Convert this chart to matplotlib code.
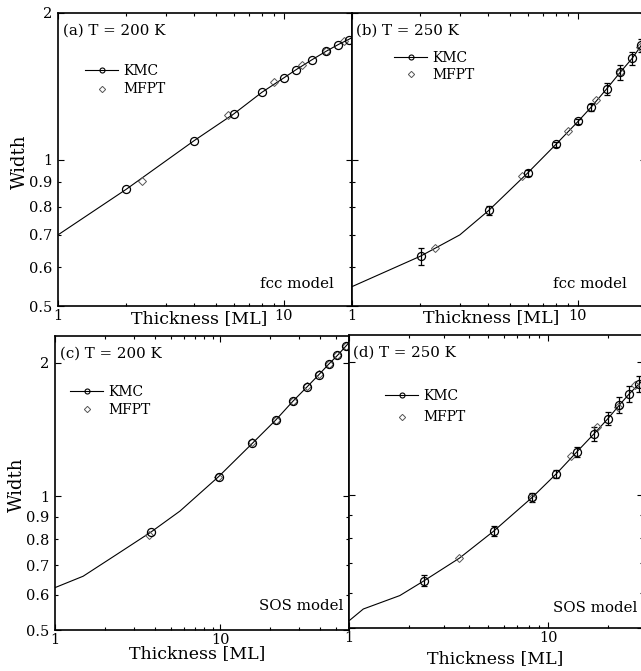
import matplotlib
matplotlib.use("Agg")
import matplotlib.pyplot as plt
from matplotlib.lines import Line2D
from matplotlib.ticker import FixedLocator, FixedFormatter, NullFormatter, LogLocator

plt.rcParams['font.family'] = ['DejaVu Serif']

# ---------------- data ----------------
# (a) fcc model, T = 200 K
a_curve_x = [1, 2, 4, 6, 8, 10, 11.3, 13.3, 15.3, 17.4, 19.3, 20]
a_curve_y = [0.70, 0.868, 1.093, 1.241, 1.375, 1.472, 1.529, 1.603, 1.667, 1.723, 1.764, 1.78]
a_kmc_x = [2, 4, 6, 8, 10, 11.3, 13.3, 15.3, 17.4, 19.3]
a_kmc_y = [0.868, 1.093, 1.241, 1.375, 1.472, 1.529, 1.603, 1.667, 1.723, 1.764]
a_mfpt_x = [2.35, 5.67, 9.0, 12.0, 15.3, 18.5]
a_mfpt_y = [0.905, 1.237, 1.444, 1.567, 1.667, 1.75]

# (b) fcc model, T = 250 K
b_curve_x = [1, 2.01, 3, 4.03, 6, 8, 10, 11.4, 13.4, 15.4, 17.4, 19.05, 20]
b_curve_y = [0.548, 0.633, 0.700, 0.786, 0.939, 1.075, 1.197, 1.279, 1.397, 1.512, 1.615, 1.715, 1.76]
b_kmc_x = [2.01, 4.03, 6, 8, 10, 11.4, 13.4, 15.4, 17.4, 19.05]
b_kmc_y = [0.633, 0.786, 0.939, 1.075, 1.197, 1.279, 1.397, 1.512, 1.615, 1.715]
b_kmc_err = [0.026, 0.017, 0.012, 0.012, 0.012, 0.02, 0.039, 0.052, 0.048, 0.05]
b_mfpt_x = [2.34, 5.64, 9.0, 12.0, 15.3, 18.9]
b_mfpt_y = [0.659, 0.926, 1.142, 1.326, 1.51, 1.70]

# (c) SOS model, T = 200 K
c_curve_x = [1, 1.48, 2.36, 3.8, 5.7, 9.75, 15.6, 21.6, 27.5, 33.5, 39.4, 45.1, 51.1, 57.3, 60]
c_curve_y = [0.623, 0.661, 0.740, 0.831, 0.927, 1.108, 1.317, 1.486, 1.640, 1.767, 1.881, 1.985, 2.08, 2.18, 2.22]
c_kmc_x = [3.8, 9.75, 15.6, 21.6, 27.5, 33.5, 39.4, 45.1, 51.1, 57.3]
c_kmc_y = [0.831, 1.108, 1.317, 1.486, 1.640, 1.767, 1.881, 1.985, 2.08, 2.18]
c_mfpt_x = [3.68, 9.7, 15.6, 21.6, 27.5, 33.5, 39.4, 45.1, 51.1, 57.3]
c_mfpt_y = [0.817, 1.105, 1.325, 1.49, 1.645, 1.77, 1.885, 1.99, 2.085, 2.185]

# (d) SOS model, T = 250 K
d_curve_x = [1, 1.18, 1.8, 2.39, 3.58, 5.33, 8.34, 11.0, 13.9, 17.0, 20.0, 22.8, 25.6, 28.7, 30]
d_curve_y = [0.519, 0.552, 0.592, 0.640, 0.719, 0.828, 0.988, 1.116, 1.249, 1.374, 1.488, 1.596, 1.693, 1.783, 1.82]
d_kmc_x = [2.39, 5.33, 8.34, 11.0, 13.9, 17.0, 20.0, 22.8, 25.6, 28.7]
d_kmc_y = [0.640, 0.828, 0.988, 1.116, 1.249, 1.374, 1.488, 1.596, 1.693, 1.783]
d_kmc_err = [0.019, 0.021, 0.024, 0.022, 0.033, 0.048, 0.049, 0.065, 0.074, 0.07]
d_mfpt_x = [3.58, 8.3, 13.0, 17.7, 22.4, 27.2]
d_mfpt_y = [0.719, 0.985, 1.227, 1.428, 1.58, 1.77]

panel_titles = ["(a) T = 200 K", "(b) T = 250 K", "(c) T = 200 K", "(d) T = 250 K"]
model_labels = ["fcc model", "fcc model", "SOS model", "SOS model"]
xlims = [(1, 20), (1, 20), (1, 60), (1, 30)]
ylims = [(0.5, 2.0), (0.5, 2.0), (0.5, 2.3), (0.5, 2.3)]
y_major = [0.5, 1, 2]
y_major_labels = ["0.5", "1", "2"]
y_minor = [0.6, 0.7, 0.8, 0.9]
y_minor_labels = ["0.6", "0.7", "0.8", "0.9"]
x_major = [1, 10]
x_major_labels = ["1", "10"]

# ---------------- layout (pixels) ----------------
W, H = 641, 671
fig = plt.figure(figsize=(W / 100, H / 100), dpi=100)

def px_axes(left, right, top, bottom):
    return fig.add_axes([left / W, (H - bottom) / H, (right - left) / W, (bottom - top) / H])

axes = [
    px_axes(58, 352, 13, 306),
    px_axes(352, 646, 13, 306),
    px_axes(55, 349, 336, 630),
    px_axes(349, 643, 335, 628),
]

data = [
    (a_curve_x, a_curve_y, a_kmc_x, a_kmc_y, None, a_mfpt_x, a_mfpt_y),
    (b_curve_x, b_curve_y, b_kmc_x, b_kmc_y, b_kmc_err, b_mfpt_x, b_mfpt_y),
    (c_curve_x, c_curve_y, c_kmc_x, c_kmc_y, None, c_mfpt_x, c_mfpt_y),
    (d_curve_x, d_curve_y, d_kmc_x, d_kmc_y, d_kmc_err, d_mfpt_x, d_mfpt_y),
]

legend_pos = [(0.092, 0.826, 0.32), (0.143, 0.870, 0.18), (0.051, 0.833, 0.25), (0.122, 0.815, 0.52)]
title_pos = [(0.017, 0.964), (0.014, 0.964), (0.017, 0.964), (0.014, 0.964)]
model_pos = [(0.939, 0.061), (0.935, 0.061), (0.98, 0.068), (0.98, 0.055)]
xlabel_pos = [(0.481, -0.015), (0.474, -0.010), (0.485, -0.052), (0.498, -0.075)]
ylabel_pos = [(-0.100, 0.493), None, (-0.100, 0.493), None]

TICK_FS = 10.5
LABEL_FS = 12.5
YLABEL_FS = 13
TEXT_FS = 10.8
LEG_FS = 10

for i, ax in enumerate(axes):
    cx, cy, kx, ky, kerr, mx, my = data[i]
    ax.set_xscale('log')
    ax.set_yscale('log')
    ax.plot(cx, cy, color='black', lw=0.8, zorder=2)
    if kerr is not None:
        ax.errorbar(kx, ky, yerr=kerr, fmt='none', ecolor='black', elinewidth=0.9,
                    capsize=2.0, capthick=0.9, zorder=3)
    ax.plot(kx, ky, linestyle='none', marker='o', ms=5.8, mfc='none', mec='black',
            mew=0.9, zorder=4)
    ax.plot(mx, my, linestyle='none', marker='D', ms=3.6, mfc='none', mec='#555555',
            mew=0.7, zorder=3)

    ax.set_xlim(*xlims[i])
    ax.set_ylim(*ylims[i])

    ax.xaxis.set_major_locator(FixedLocator(x_major))
    ax.xaxis.set_major_formatter(FixedFormatter(x_major_labels))
    ax.xaxis.set_minor_locator(LogLocator(base=10, subs=(2, 3, 4, 5, 6, 7, 8, 9)))
    ax.xaxis.set_minor_formatter(NullFormatter())

    ax.yaxis.set_major_locator(FixedLocator(y_major))
    ax.yaxis.set_minor_locator(FixedLocator(y_minor))
    if i in (0, 2):
        ax.yaxis.set_major_formatter(FixedFormatter(y_major_labels))
        ax.yaxis.set_minor_formatter(FixedFormatter(y_minor_labels))
    else:
        ax.yaxis.set_major_formatter(NullFormatter())
        ax.yaxis.set_minor_formatter(NullFormatter())

    ax.tick_params(which='both', direction='in', top=True, right=True,
                   width=0.8, labelsize=TICK_FS, colors='black')
    ax.tick_params(which='major', length=4.3)
    ax.tick_params(which='minor', length=2.5)
    ax.tick_params(axis='x', which='both', pad=2)
    ax.tick_params(axis='y', which='both', pad=4)
    for s in ax.spines.values():
        s.set_linewidth(1.2)
        s.set_color('black')

    ax.set_xlabel("Thickness [ML]", fontsize=LABEL_FS)
    ax.xaxis.set_label_coords(*xlabel_pos[i])
    if ylabel_pos[i] is not None:
        ax.set_ylabel("Width", fontsize=YLABEL_FS)
        ax.yaxis.set_label_coords(*ylabel_pos[i])

    ax.text(title_pos[i][0], title_pos[i][1], panel_titles[i], transform=ax.transAxes,
            ha='left', va='top', fontsize=TEXT_FS)
    ax.text(model_pos[i][0], model_pos[i][1], model_labels[i], transform=ax.transAxes,
            ha='right', va='baseline', fontsize=TEXT_FS)

    handles = [
        Line2D([], [], color='black', lw=0.8, marker='o', ms=3.6, mfc='none', mec='black', mew=0.8),
        Line2D([], [], color='none', lw=0, marker='D', ms=3.2, mfc='none', mec='#555555', mew=0.7),
    ]
    lx, ly, lsp = legend_pos[i]
    ax.legend(handles, ["KMC", "MFPT"], loc='upper left', bbox_to_anchor=(lx, ly),
              frameon=False, fontsize=LEG_FS, handlelength=2.4, handletextpad=0.35,
              borderpad=0, borderaxespad=0, labelspacing=lsp)

fig.savefig("out.png", dpi=100)
